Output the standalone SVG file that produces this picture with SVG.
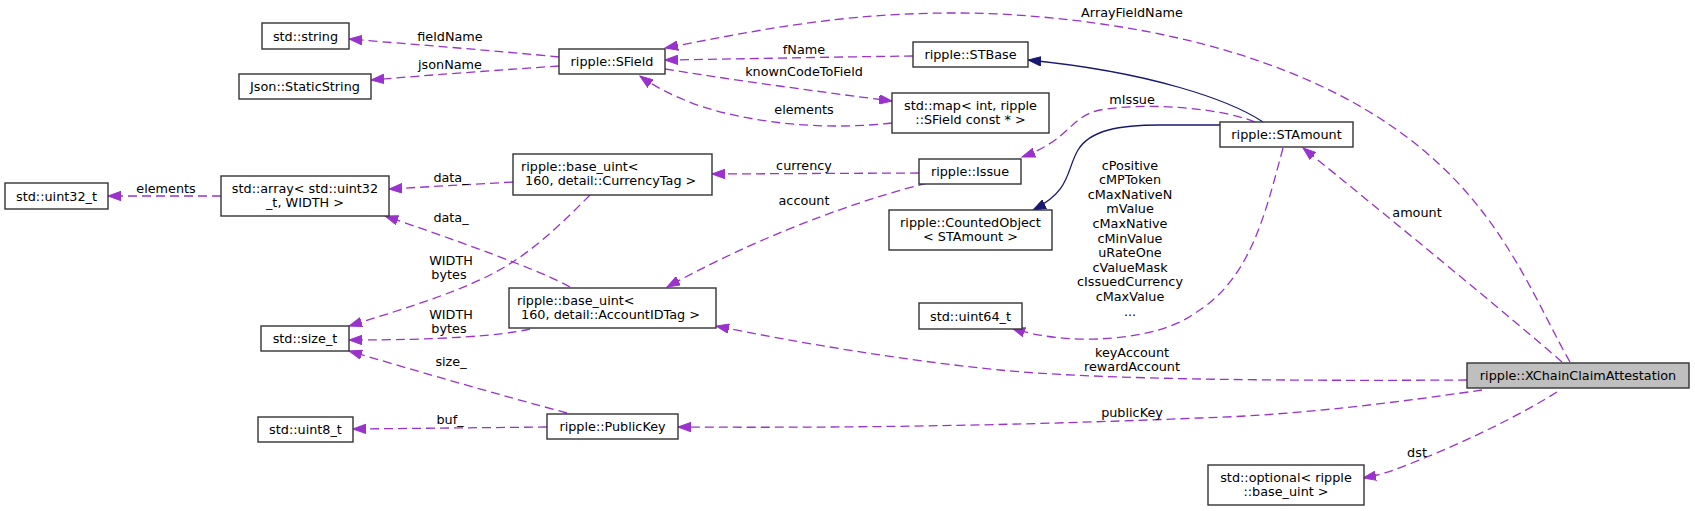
<svg xmlns="http://www.w3.org/2000/svg" width="1695" height="511" viewBox="0 0 1695 511">
<style>
  .n rect{fill:#ffffff;stroke:#333333;stroke-width:1.4}
  .n.hl rect{fill:#bfbfbf}
  text{font-family:"DejaVu Sans","Liberation Sans",sans-serif;font-size:12.8px;fill:#000}
  .c{text-anchor:middle}
  .u{fill:none;stroke:#9a32cd;stroke-width:1.3;stroke-dasharray:9,5}
  .i{fill:none;stroke:#191970;stroke-width:1.3}
</style>
<defs>
  <marker id="ap" markerUnits="userSpaceOnUse" markerWidth="14" markerHeight="10" refX="13" refY="5" orient="auto">
    <path d="M0,0.3 L13,5 L0,9.7 z" fill="#9a32cd" stroke="#9a32cd" stroke-width="1"/>
  </marker>
  <marker id="an" markerUnits="userSpaceOnUse" markerWidth="14" markerHeight="10" refX="13" refY="5" orient="auto">
    <path d="M0,0.3 L13,5 L0,9.7 z" fill="#191970" stroke="#191970" stroke-width="1"/>
  </marker>
</defs>
<rect width="1695" height="511" fill="#ffffff"/>

<g id="edges">
  <path class="u" marker-end="url(#ap)" d="M221,196 L108,196"/>
  <text class="c" x="166" y="192.5">elements</text>

  <path class="u" marker-end="url(#ap)" d="M559,57 C500,51 420,45 349,39"/>
  <text class="c" x="450" y="40.5">fieldName</text>

  <path class="u" marker-end="url(#ap)" d="M559,66 C500,70 430,75 371,80"/>
  <text class="c" x="450" y="68.5">jsonName</text>

  <path class="u" marker-end="url(#ap)" d="M913,56 C830,57 740,59 665,60"/>
  <text class="c" x="804" y="53.5">fName</text>

  <path class="u" marker-end="url(#ap)" d="M665,69 C720,78 820,92 892,101"/>
  <text class="c" x="804" y="75.5">knownCodeToField</text>

  <path class="u" marker-end="url(#ap)" d="M892,123 C830,130 760,125 700,106 C675,97 655,87 640,76"/>
  <text class="c" x="804" y="113.5">elements</text>

  <path class="u" marker-end="url(#ap)" d="M1570,362 C1540,310 1510,230 1440,165 C1350,80 1200,25 1000,14 C860,8 760,30 665,48"/>
  <text class="c" x="1132" y="16.5">ArrayFieldName</text>

  <path class="i" marker-end="url(#an)" d="M1263,122 C1230,100 1150,72 1028,60"/>

  <path class="i" marker-end="url(#an)" d="M1220,125 L1160,125 C1120,125 1090,130 1078,150 C1066,170 1072,190 1033,210"/>

  <path class="u" marker-end="url(#ap)" d="M1255,122 C1220,108 1150,102 1100,110 C1070,116 1070,140 1022,157"/>
  <text class="c" x="1132" y="103.5">mIssue</text>

  <path class="u" marker-end="url(#ap)" d="M919,173 L712,174"/>
  <text class="c" x="804" y="169.5">currency</text>

  <path class="u" marker-end="url(#ap)" d="M927,183 C880,195 780,225 667,287"/>
  <text class="c" x="804" y="204.5">account</text>

  <path class="u" marker-end="url(#ap)" d="M513,182 L389,189"/>
  <text class="c" x="451" y="181.5">data_</text>

  <path class="u" marker-end="url(#ap)" d="M570,287 C545,272 450,238 385,216"/>
  <text class="c" x="451" y="221.5">data_</text>

  <path class="u" marker-end="url(#ap)" d="M590,195 C560,225 530,255 490,275 C450,295 400,310 349,326"/>
  <text class="c" x="451" y="264.5">WIDTH</text>
  <text class="c" x="449" y="278.5">bytes</text>

  <path class="u" marker-end="url(#ap)" d="M530,329 C500,336 440,340 349,340"/>
  <text class="c" x="451" y="318.5">WIDTH</text>
  <text class="c" x="449" y="332.5">bytes</text>

  <path class="u" marker-end="url(#ap)" d="M567,413 C500,395 420,372 349,351"/>
  <text class="c" x="451" y="365.5">size_</text>

  <path class="u" marker-end="url(#ap)" d="M547,427 L353,429"/>
  <text class="c" x="450" y="423.5">buf_</text>

  <path class="u" marker-end="url(#ap)" d="M1283,148 C1265,215 1250,280 1195,313 C1160,340 1070,348 1012,328"/>
  <text class="c" x="1130" y="169.5">cPositive</text>
  <text class="c" x="1130" y="184.1">cMPToken</text>
  <text class="c" x="1130" y="198.7">cMaxNativeN</text>
  <text class="c" x="1130" y="213.3">mValue</text>
  <text class="c" x="1130" y="227.9">cMaxNative</text>
  <text class="c" x="1130" y="242.5">cMinValue</text>
  <text class="c" x="1130" y="257.1">uRateOne</text>
  <text class="c" x="1130" y="271.7">cValueMask</text>
  <text class="c" x="1130" y="286.3">cIssuedCurrency</text>
  <text class="c" x="1130" y="300.9">cMaxValue</text>
  <text class="c" x="1130" y="315.5">...</text>

  <path class="u" marker-end="url(#ap)" d="M1562,362 C1520,325 1380,210 1303,148"/>
  <text class="c" x="1417" y="216.5">amount</text>

  <path class="u" marker-end="url(#ap)" d="M1467,380 C1300,381 1100,380 1000,370 C900,360 800,343 716,326"/>
  <text class="c" x="1132" y="356.5">keyAccount</text>
  <text class="c" x="1132" y="370.5">rewardAccount</text>

  <path class="u" marker-end="url(#ap)" d="M1482,390 C1400,402 1300,415 1200,418 C1000,426 850,428 678,427"/>
  <text class="c" x="1132" y="416.5">publicKey</text>

  <path class="u" marker-end="url(#ap)" d="M1557,392 C1520,415 1470,440 1412,463 C1395,470 1380,475 1363,478"/>
  <text class="c" x="1417" y="456.5">dst</text>
</g>

<g id="node-uint32" class="n"><rect x="5" y="183" width="103" height="26"/><text class="c" x="56.5" y="200.5">std::uint32_t</text></g>
<g id="node-array" class="n"><rect x="221" y="176" width="168" height="40"/><text class="c" x="305" y="192.5">std::array&lt; std::uint32</text><text class="c" x="305" y="207.3">_t, WIDTH &gt;</text></g>
<g id="node-string" class="n"><rect x="262" y="23" width="87" height="26"/><text class="c" x="305.5" y="40.5">std::string</text></g>
<g id="node-staticstring" class="n"><rect x="239" y="74" width="132" height="25"/><text class="c" x="305" y="91">Json::StaticString</text></g>
<g id="node-sfield" class="n"><rect x="559" y="49" width="106" height="25"/><text class="c" x="612" y="66">ripple::SField</text></g>
<g id="node-stbase" class="n"><rect x="913" y="42" width="115" height="25"/><text class="c" x="970.5" y="59">ripple::STBase</text></g>
<g id="node-map" class="n"><rect x="892" y="93" width="157" height="40"/><text class="c" x="970.5" y="109.5">std::map&lt; int, ripple</text><text class="c" x="970.5" y="124.3">::SField const * &gt;</text></g>
<g id="node-currencytag" class="n"><rect x="513" y="154" width="199" height="41"/><text x="521" y="170.5" xml:space="preserve">ripple::base_uint&lt;</text><text x="521" y="185.3" xml:space="preserve"> 160, detail::CurrencyTag &gt;</text></g>
<g id="node-issue" class="n"><rect x="919" y="159" width="102" height="25"/><text class="c" x="970" y="176">ripple::Issue</text></g>
<g id="node-countedobject" class="n"><rect x="889" y="210" width="163" height="40"/><text class="c" x="970.5" y="226.5">ripple::CountedObject</text><text class="c" x="970.5" y="241.3">&lt; STAmount &gt;</text></g>
<g id="node-stamount" class="n"><rect x="1220" y="122" width="133" height="25"/><text class="c" x="1286.5" y="139">ripple::STAmount</text></g>
<g id="node-accountidtag" class="n"><rect x="509" y="288" width="207" height="40"/><text x="517" y="304.5" xml:space="preserve">ripple::base_uint&lt;</text><text x="517" y="319.3" xml:space="preserve"> 160, detail::AccountIDTag &gt;</text></g>
<g id="node-uint64" class="n"><rect x="919" y="303" width="103" height="26"/><text class="c" x="970.5" y="320.5">std::uint64_t</text></g>
<g id="node-sizet" class="n"><rect x="261" y="326" width="88" height="25"/><text class="c" x="305" y="343">std::size_t</text></g>
<g id="node-uint8" class="n"><rect x="258" y="417" width="95" height="25"/><text class="c" x="305.5" y="434">std::uint8_t</text></g>
<g id="node-publickey" class="n"><rect x="547" y="414" width="131" height="25"/><text class="c" x="612.5" y="431">ripple::PublicKey</text></g>
<g id="node-xchain" class="n hl"><rect x="1467" y="363" width="222" height="25"/><text class="c" x="1578" y="380">ripple::XChainClaimAttestation</text></g>
<g id="node-optional" class="n"><rect x="1208" y="465" width="156" height="40"/><text class="c" x="1286" y="481.5">std::optional&lt; ripple</text><text class="c" x="1286" y="496.3">::base_uint &gt;</text></g>
</svg>
